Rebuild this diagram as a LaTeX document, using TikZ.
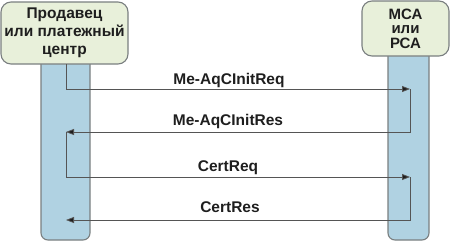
\documentclass[tikz,border=0pt]{standalone}
\usepackage{fontspec}
\setmainfont{Liberation Sans}
\usetikzlibrary{arrows.meta}
\definecolor{boxfill}{HTML}{E8F0DA}
\definecolor{barfill}{HTML}{B0D2E2}
\definecolor{edgegray}{HTML}{7A7F80}
\definecolor{linegray}{HTML}{555555}
\definecolor{txt}{HTML}{1E1E1E}
\tikzset{
  partybox/.style={draw=edgegray, line width=1.1pt, fill=boxfill, rounded corners=10pt,
    inner sep=0pt, align=center, text=txt, font=\bfseries},
  lifebar/.style={draw=edgegray, line width=1.1pt, fill=barfill, rounded corners=7pt, inner sep=0pt},
  msg/.style={draw=linegray, line width=0.8pt, -{Triangle[length=8pt,width=6pt,fill=txt]}},
  msglabel/.style={anchor=base, text=txt, font=\fontsize{15.5}{17}\selectfont\bfseries, inner sep=0pt}
}
\begin{document}
\begin{tikzpicture}[x=1pt,y=-1pt]
\useasboundingbox (0,0) rectangle (450,241);
% lifelines
\node[lifebar, minimum width=49pt, minimum height=200pt] (lbar) at (65.5,140) {};
\node[lifebar, minimum width=41pt, minimum height=200pt] (rbar) at (408.5,140) {};
% party boxes
\node[partybox, minimum width=127pt, minimum height=62pt,
  font=\fontsize{15.5}{18}\selectfont\bfseries] (lbox) at (64.5,33)
  {Продавец\\или платежный\\центр};
\node[partybox, minimum width=87pt, minimum height=55pt,
  font=\fontsize{15}{14.5}\selectfont\bfseries] (rbox) at (405.5,28.5)
  {МСА\\или\\РСА};
% turning points
\coordinate (l0) at (66,64);
\coordinate (l1) at (66,89);
\coordinate (r1) at (410,89);
\coordinate (r2) at (410,132);
\coordinate (l2) at (66,132);
\coordinate (l3) at (66,177);
\coordinate (r3) at (410,177);
\coordinate (r4) at (410,220);
\coordinate (l4) at (66,220);
% messages
\draw[msg] (l0) -- (l1) -- (r1);
\draw[msg] (r1) -- (r2) -- (l2);
\draw[msg] (l2) -- (l3) -- (r3);
\draw[msg] (r3) -- (r4) -- (l4);
% labels
\node[msglabel] (t1) at (229,84) {Me-AqCInitReq};
\node[msglabel] (t2) at (228,125) {Me-AqCInitRes};
\node[msglabel] (t3) at (228,171) {CertReq};
\node[msglabel] (t4) at (230,212) {CertRes};
\end{tikzpicture}
\end{document}
